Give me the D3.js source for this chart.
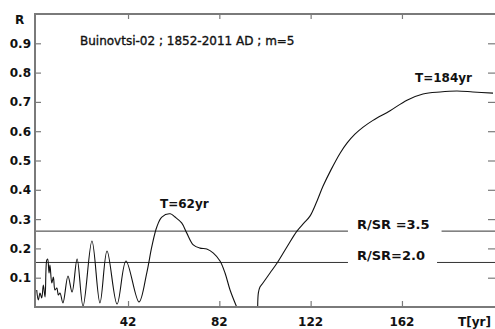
<!DOCTYPE html>
<html>
<head>
<meta charset="utf-8">
<script src="https://cdn.jsdelivr.net/npm/d3@7"></script>
<style>
	body { margin: 0; background: #fff; }
	svg { display: block; font-family: "DejaVu Sans", Verdana, sans-serif; }
	.tick-label { font-size: 12px; font-weight: bold; fill: #111; }
	.note { font-size: 12px; font-weight: bold; fill: #111; }
	.thr-note { font-size: 13px; font-weight: bold; fill: #111; }
	.title { font-size: 12px; fill: #111; stroke: #111; stroke-width: 0.35; }
</style>
</head>
<body>
<script>
"use strict";

// periodogram values (T in years, R); null = curve not drawn
var periods = [2.0, 2.7, 3.45, 4.2, 4.9, 5.65, 6.4, 6.8, 7.4, 7.8, 8.6, 9.3, 10.0, 10.8, 11.5, 12.2,
	13.5, 15.7, 17.5, 19.7, 22.3, 26.2, 29.7, 32.8, 37.2, 41.1, 46.8, 50.2, 52.4, 54.6, 56.8, 60.5,
	62.6, 65.5, 67.7, 70.6, 73.5, 76.5, 79.4, 82.3, 84.5, 86.7, 89.6, 94,
	98.8, 99.1, 99.8, 101.1, 104.2, 107.3, 111.6, 116.0, 119.0, 121.7, 124.8, 127.4, 130.9, 134.9,
	138.0, 141.4, 145.0, 149.3, 156.8, 164.2, 171.2, 178.7, 186.1, 193.1, 201.9];
var rValues = [0.058, 0.024, 0.048, 0.031, 0.075, 0.034, 0.160, 0.164, 0.116, 0.143, 0.082, 0.102, 0.058, 0.065, 0.041, 0.048,
	0.014, 0.106, 0.051, 0.164, 0.003, 0.225, 0.014, 0.191, 0.010, 0.157, 0.017, 0.116, 0.205, 0.273, 0.307, 0.318,
	0.307, 0.287, 0.253, 0.212, 0.201, 0.198, 0.184, 0.157, 0.116, 0.058, 0.0, null,
	0.0, 0.048, 0.068, 0.082, 0.116, 0.150, 0.205, 0.259, 0.286, 0.310, 0.362, 0.412, 0.468, 0.525,
	0.560, 0.590, 0.614, 0.637, 0.670, 0.706, 0.727, 0.734, 0.737, 0.734, 0.730];

var xTicks = [42, 82, 122, 162];
var yTicks = [0.1, 0.2, 0.3, 0.4, 0.5, 0.6, 0.7, 0.8, 0.9];

var thresholdLevels = [0.259, 0.152];
var thresholdLabels = ["R/SR =3.5", "R/SR=2.0"];

var peakLabels = ["T=62yr", "T=184yr"];
var titleText = "Buinovtsi-02 ; 1852-2011 AD ; m=5";

var width = 495;
var height = 329;

var margin = { top: 14, left: 35, right: -1, bottom: 22 };

var xScale = d3.scaleLinear()
	.domain([1.25, 203.2])
	.range([margin.left, width - margin.right]);

var yScale = d3.scaleLinear()
	.domain([0, 1])
	.range([height - margin.bottom, margin.top]);

var svg = d3.select("body").append("svg")
	.attr("width", width)
	.attr("height", height);

var axisColor = "#7a7a7a";

// clip for the curve so nothing spills below zero
svg.append("clipPath").attr("id", "plotClip")
	.append("rect")
	.attr("x", margin.left)
	.attr("y", margin.top)
	.attr("width", width - margin.right - margin.left)
	.attr("height", height - margin.bottom - margin.top);

// threshold lines (with a gap for the label)
var thr = svg.append("g").attr("class", "thresholds");
thresholdLevels.forEach(function(level, i) {
	var ty = yScale(level);
	var lbl = thr.append("text")
		.attr("class", "thr-note")
		.attr("x", xScale(142.3))
		.attr("y", ty - 2)
		.text(thresholdLabels[i]);
	var bb = lbl.node().getBBox();
	thr.append("line")
		.attr("x1", margin.left).attr("x2", bb.x - 9)
		.attr("y1", ty).attr("y2", ty)
		.attr("stroke", "#333").attr("stroke-width", 1);
	thr.append("line")
		.attr("x1", bb.x + bb.width + 12).attr("x2", width - margin.right)
		.attr("y1", ty).attr("y2", ty)
		.attr("stroke", "#333").attr("stroke-width", 1);
});

// the periodogram curve
var points = periods.map(function(t, i) { return { t: t, r: rValues[i] }; });

var line = d3.line()
	.defined(function(d) { return d.r !== null; })
	.x(function(d) { return xScale(d.t); })
	.y(function(d) { return yScale(d.r); })
	.curve(d3.curveCatmullRom.alpha(0.5));

svg.append("path")
	.datum(points)
	.attr("clip-path", "url(#plotClip)")
	.attr("fill", "none")
	.attr("stroke", "#111")
	.attr("stroke-width", 1.1)
	.attr("d", line);

// axes: ticks point inward on all four sides
var plotW = width - margin.right - margin.left;
var plotH = height - margin.bottom - margin.top;

svg.append("g")
	.attr("transform", "translate(0," + (height - margin.bottom) + ")")
	.call(d3.axisTop(xScale).tickValues(xTicks).tickSize(6).tickFormat(""))
	.call(function(g) { g.select(".domain").remove(); });
svg.append("g")
	.attr("transform", "translate(0," + margin.top + ")")
	.call(d3.axisBottom(xScale).tickValues(xTicks).tickSize(5).tickFormat(""))
	.call(function(g) { g.select(".domain").remove(); });
svg.append("g")
	.attr("transform", "translate(" + margin.left + ",0)")
	.call(d3.axisRight(yScale).tickValues(yTicks).tickSize(6).tickFormat(""))
	.call(function(g) { g.select(".domain").remove(); });
svg.append("g")
	.attr("transform", "translate(" + (width - margin.right) + ",0)")
	.call(d3.axisLeft(yScale).tickValues(yTicks).tickSize(8).tickFormat(""))
	.call(function(g) { g.select(".domain").remove(); });

svg.selectAll(".tick line").attr("stroke", axisColor).attr("stroke-width", 1.2);

// frame
svg.append("rect")
	.attr("x", margin.left)
	.attr("y", margin.top)
	.attr("width", plotW)
	.attr("height", plotH)
	.attr("fill", "none")
	.attr("stroke", axisColor)
	.attr("stroke-width", 2);

// tick labels
svg.append("g").selectAll("text")
	.data(xTicks)
	.enter()
	.append("text")
	.attr("class", "tick-label")
	.attr("x", function(d) { return xScale(d); })
	.attr("y", height - 3)
	.attr("text-anchor", "middle")
	.text(function(d) { return d; });

svg.append("g").selectAll("text")
	.data(yTicks)
	.enter()
	.append("text")
	.attr("class", "tick-label")
	.attr("x", margin.left - 4)
	.attr("y", function(d) { return yScale(d) + 4.5; })
	.attr("text-anchor", "end")
	.text(function(d) { return d3.format(".1f")(d); });

svg.append("text")
	.attr("class", "tick-label")
	.attr("x", 15).attr("y", 24)
	.text("R");

svg.append("text")
	.attr("class", "tick-label")
	.attr("x", 458).attr("y", height - 3)
	.text("T[yr]");

// title and peak notes
svg.append("text")
	.attr("class", "title")
	.attr("x", 80).attr("y", 45)
	.text(titleText);

svg.append("text")
	.attr("class", "note")
	.attr("x", xScale(56.0)).attr("y", yScale(0.338))
	.text(peakLabels[0]);

svg.append("text")
	.attr("class", "note")
	.attr("x", xScale(167.7)).attr("y", yScale(0.768))
	.text(peakLabels[1]);
</script>
</body>
</html>
